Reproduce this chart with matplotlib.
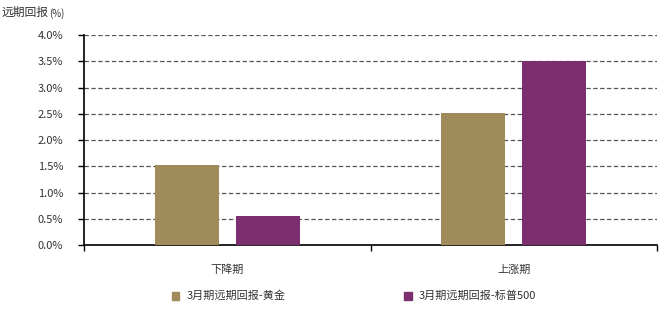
import numpy as np
from matplotlib import pyplot as plt
from matplotlib.patches import Rectangle

plt.rcParams['font.family'] = ['Noto Sans CJK SC', 'DejaVu Sans']

categories = ['下降期', '上涨期']
gold_values = [1.52, 2.52]
spx_values = [0.56, 3.50]
series_names = ['3月期远期回报-黄金', '3月期远期回报-标普500']
colors = ['#A08C5B', '#7B2F6E']
y_ticks = [0.0, 0.5, 1.0, 1.5, 2.0, 2.5, 3.0, 3.5, 4.0]

def main():
    fig = plt.figure(figsize=(6.67, 3.18), dpi=100)
    ax = fig.add_axes([0.126, 0.2296, 0.859, 0.660])

    x = np.arange(len(categories))
    width = 0.223
    offset = 0.141
    ax.bar(x - offset, gold_values, width, color=colors[0], zorder=3)
    ax.bar(x + offset, spx_values, width, color=colors[1], zorder=3)

    ax.set_xlim(-0.5, len(categories) - 0.5)
    ax.set_ylim(0, 4.0)
    ax.set_yticks(y_ticks)
    ax.set_yticklabels([f'{v:.1f}%' for v in y_ticks], fontsize=8, color='#333333')
    ax.yaxis.grid(True, linestyle=(0, (3.5, 2)), color='#555555', linewidth=0.9, zorder=0)
    ax.tick_params(axis='y', length=4, width=1, direction='out', pad=11)

    ax.set_xticks(x)
    ax.set_xticklabels(categories, fontsize=8, color='#333333')
    ax.tick_params(axis='x', which='major', length=0, pad=14)
    ax.set_xticks([-0.5, 0.5, 1.5], minor=True)
    ax.tick_params(axis='x', which='minor', length=4, width=1, direction='out')

    for s in ['top', 'right']:
        ax.spines[s].set_visible(False)
    for s in ['left', 'bottom']:
        ax.spines[s].set_linewidth(1.2)
        ax.spines[s].set_color('black')

    fig.text(0.003, 0.962, '远期回报', fontsize=8.5, color='#333333', va='center', ha='left')
    fig.text(0.074, 0.958, '(%)', fontsize=7, color='#333333', va='center', ha='left')

    # legend drawn in figure coords
    for px, name, c in zip([0.258, 0.606], series_names, colors):
        fig.patches.append(Rectangle((px, 0.058), 0.011, 0.024, transform=fig.transFigure,
                                     color=c, figure=fig))
        fig.text(px + 0.022, 0.070, name, fontsize=8, color='#333333', va='center', ha='left')

    plt.savefig('out.png', dpi=100)

if __name__ == '__main__':
    main()
